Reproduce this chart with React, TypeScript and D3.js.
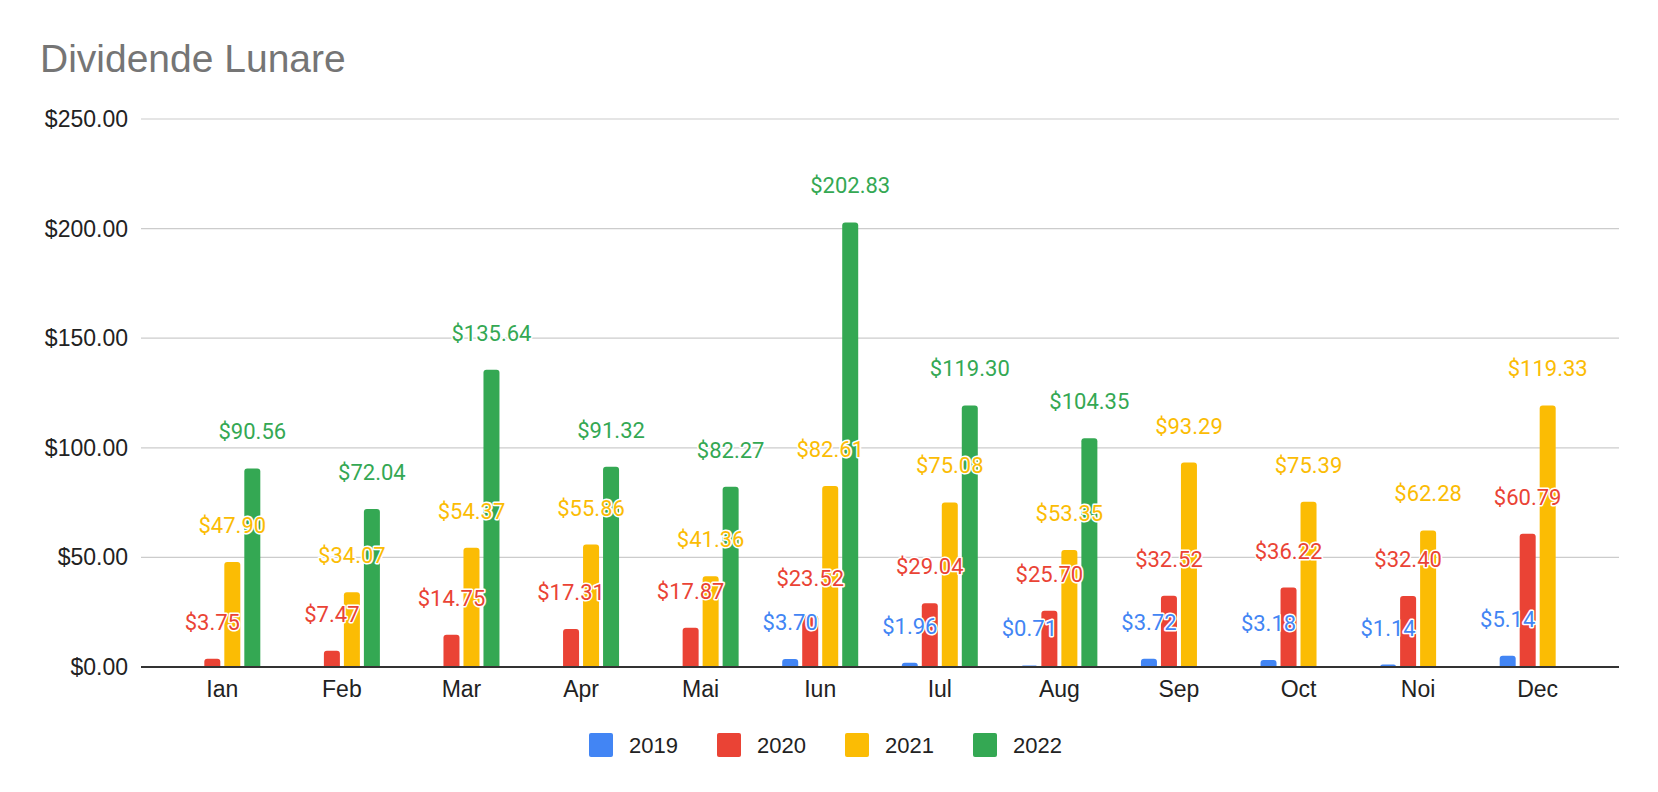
import React from "react";
import * as d3 from "d3";

const months = ["Ian","Feb","Mar","Apr","Mai","Iun","Iul","Aug","Sep","Oct","Noi","Dec"];
const years = ["2019","2020","2021","2022"];
const colors = ["#4285F4","#EA4335","#FBBC04","#34A853"];
const v2019 = [0,0,0,0,0,3.70,1.96,0.71,3.72,3.18,1.14,5.14];
const v2020 = [3.75,7.47,14.75,17.31,17.87,23.52,29.04,25.70,32.52,36.22,32.40,60.79];
const v2021 = [47.90,34.07,54.37,55.86,41.36,82.61,75.08,53.35,93.29,75.39,62.28,119.33];
const v2022 = [90.56,72.04,135.64,91.32,82.27,202.83,119.30,104.35,0,0,0,0];
const series = [v2019, v2020, v2021, v2022];
const yTicks = [0,50,100,150,200,250];

const W = 1658, H = 792;
const x = d3.scalePoint<string>().domain(months).range([141,1619]).padding(0.68);
const y = d3.scaleLinear().domain([0,250]).range([667,119]);
const BW = 16, GAP = 20;
const AX = "'Liberation Sans', Arial, sans-serif";

function barPath(x0: number, top: number, w: number, bottom: number) {
  const r = Math.min(3, (bottom - top));
  return `M${x0},${bottom}V${top + r}Q${x0},${top} ${x0 + r},${top}H${x0 + w - r}Q${x0 + w},${top} ${x0 + w},${top + r}V${bottom}Z`;
}

export default function App() {
  const fmt = (v: number) => "$" + v.toFixed(2);
  return (
    <svg width={W} height={H} style={{ position: "absolute", left: 0, top: 0, background: "#fff" }}>
      <text x={40} y={72} fontFamily={AX} fontSize={39} fill="#757575">Dividende Lunare</text>
      {yTicks.map(t => (
        <g key={t}>
          {t !== 0 && <line x1={141} x2={1619} y1={y(t)} y2={y(t)} stroke="#cccccc" strokeWidth={1.2} />}
          <text x={128} y={y(t) + 8} textAnchor="end" fontFamily={AX} fontSize={23} fill="#222">{fmt(t)}</text>
        </g>
      ))}
      {series.map((vals, si) => vals.map((v, i) => {
        if (!v) return null;
        const cx = (x(months[i]) as number) + (si - 1.5) * GAP;
        return <path key={`b${si}-${i}`} d={barPath(cx - BW / 2, y(v), BW, y(0))} fill={colors[si]} />;
      }))}
      <line x1={141} x2={1619} y1={y(0)} y2={y(0)} stroke="#333" strokeWidth={2} />
      {months.map(m => (
        <text key={m} x={x(m)} y={697} textAnchor="middle" fontFamily={AX} fontSize={23} fill="#222">{m}</text>
      ))}
      {series.map((vals, si) => vals.map((v, i) => {
        if (!v) return null;
        const cx = (x(months[i]) as number) + (si - 1.5) * GAP;
        return (
          <text key={`l${si}-${i}`} x={cx} y={y(v) - 29} textAnchor="middle" fontFamily="Roboto, sans-serif" fontSize={22}
            fill={colors[si]} stroke="#fff" strokeWidth={3} paintOrder="stroke" strokeLinejoin="round">{fmt(v)}</text>
        );
      }))}
      {years.map((yr, i) => (
        <g key={yr} transform={`translate(${589 + i * 128},733)`}>
          <rect width={24} height={24} rx={2} fill={colors[i]} />
          <text x={40} y={20} fontFamily={AX} fontSize={22} fill="#222">{yr}</text>
        </g>
      ))}
    </svg>
  );
}
